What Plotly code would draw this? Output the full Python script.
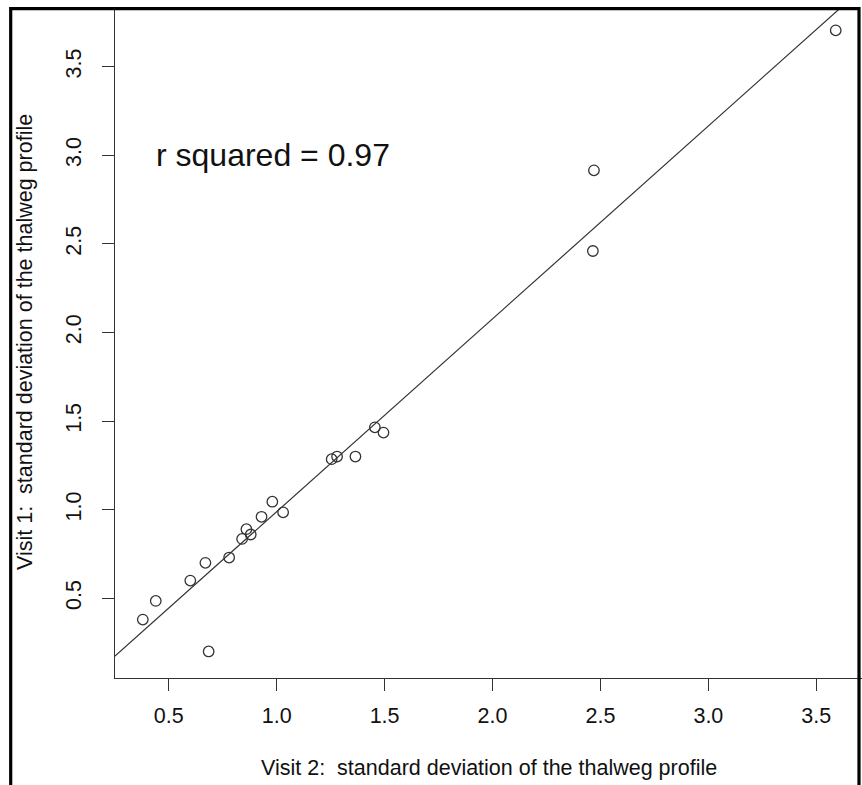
import plotly.graph_objects as go

# Standard deviation of the thalweg profile at each site, two survey visits
visit2_sd = [0.38, 0.44, 0.60, 0.67, 0.685, 0.78, 0.84, 0.86, 0.88, 0.93, 0.98,
             1.03, 1.255, 1.28, 1.365, 1.455, 1.495, 2.465, 2.47, 3.59]
visit1_sd = [0.38, 0.485, 0.60, 0.70, 0.20, 0.73, 0.835, 0.89, 0.86, 0.96, 1.045,
             0.985, 1.285, 1.30, 1.30, 1.465, 1.435, 2.46, 2.915, 3.705]

# Least-squares line of visit 1 on visit 2
fit_slope = 1.0885
fit_intercept = -0.100
fit_label = "r squared = 0.97"

x_ticks = [0.5, 1.0, 1.5, 2.0, 2.5, 3.0, 3.5]
y_ticks = [0.5, 1.0, 1.5, 2.0, 2.5, 3.0, 3.5]
x_title = "Visit 2:  standard deviation of the thalweg profile"
y_title = "Visit 1:  standard deviation of the thalweg profile"

W, H = 862, 785
x_range = [0.2512, 3.7117]
y_range = [0.0502, 3.8256]

FONT = "Liberation Sans, Arial, sans-serif"
INK = "#333333"
TEXT = "#111111"
LABEL_SIZE = 21.5

fit_x = [x_range[0], x_range[1]]
fit_y = [fit_intercept + fit_slope * v for v in fit_x]

fig = go.Figure()
fig.add_trace(go.Scatter(
    x=fit_x, y=fit_y, mode="lines",
    line=dict(color=INK, width=1.2), hoverinfo="skip", showlegend=False))
fig.add_trace(go.Scatter(
    x=visit2_sd, y=visit1_sd, mode="markers",
    marker=dict(symbol="circle-open", size=10.5, color=INK, line=dict(width=1.3)),
    showlegend=False))

axis_common = dict(
    showgrid=False, zeroline=False, showline=True, linecolor=INK, linewidth=1.2,
    ticks="outside", ticklen=12, tickwidth=1.2, tickcolor=INK,
    tickfont=dict(size=LABEL_SIZE, color=TEXT, family=FONT))

fig.update_layout(
    width=W, height=H,
    margin=dict(l=0, r=0, t=0, b=0, pad=0),
    paper_bgcolor="white", plot_bgcolor="white",
    font=dict(family=FONT, size=LABEL_SIZE, color=TEXT),
    xaxis=dict(
        domain=[115 / W, 1.0], range=x_range, tickvals=x_ticks,
        ticktext=[f"{v:.1f}" for v in x_ticks], ticklabelstandoff=6,
        **axis_common),
    yaxis=dict(
        domain=[(H - 678) / H, (H - 9) / H], range=y_range, tickvals=y_ticks,
        ticktext=[f"{v:.1f}" for v in y_ticks], tickangle=-90,
        ticklabelstandoff=12, **axis_common),
    annotations=[
        dict(text=x_title, xref="paper", yref="paper",
             x=((115 + 862) / 2 + 1) / W, y=(H - 768) / H,
             xanchor="center", yanchor="middle", showarrow=False,
             font=dict(size=LABEL_SIZE, color=TEXT, family=FONT)),
        dict(text=y_title, xref="paper", yref="paper",
             x=25 / W, y=(H - 342) / H, textangle=-90,
             xanchor="center", yanchor="middle", showarrow=False,
             font=dict(size=LABEL_SIZE, color=TEXT, family=FONT)),
        dict(text=fit_label, xref="x", yref="y", x=0.985, y=3.0,
             xanchor="center", yanchor="middle", showarrow=False,
             font=dict(size=32, color=TEXT, family=FONT)),
    ],
    shapes=[
        dict(type="rect", xref="paper", yref="paper",
             x0=10.7 / W, x1=859 / W, y0=-0.05, y1=(H - 8.7) / H,
             line=dict(color="black", width=3.2), layer="above"),
    ],
)

fig.write_html("out.html")
